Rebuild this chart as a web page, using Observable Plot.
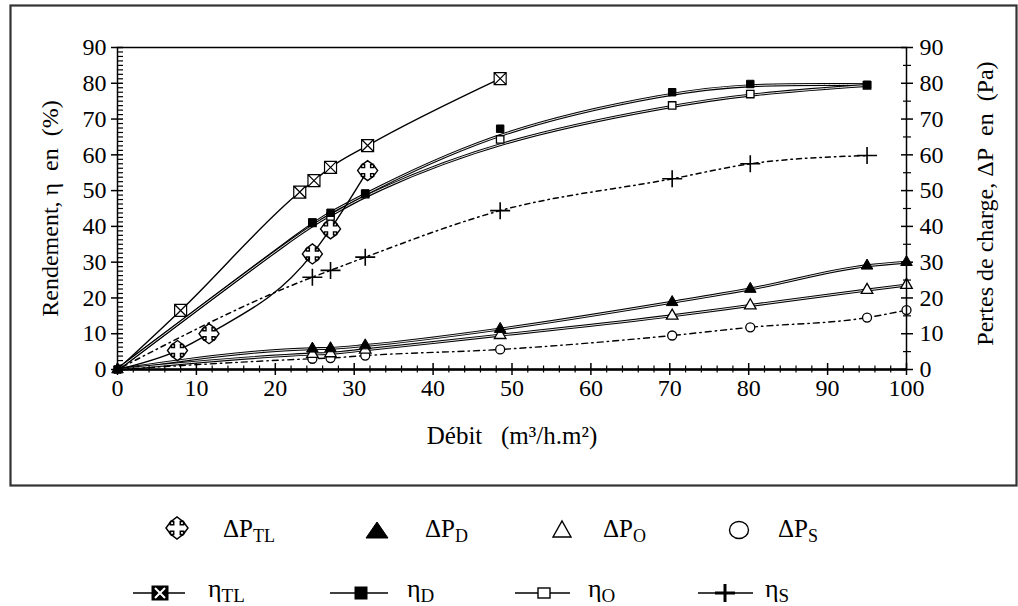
<!DOCTYPE html>
<html>
<head>
<meta charset="utf-8">
<script src="https://cdn.jsdelivr.net/npm/d3@7"></script>
<script src="https://cdn.jsdelivr.net/npm/@observablehq/plot@0.6"></script>
<style>
  body { margin: 0; font-family: 'Liberation Serif', serif; }
  svg text, svg tspan { font-family: 'Liberation Serif', serif !important; }
</style>
</head>
<body>
<div id="chart"></div>
<svg id="legend" width="1018" height="119" font-family="Liberation Serif" style="display:block; font-family: 'Liberation Serif', serif"></svg>
<script>
// ---------- data ----------
// Rendement η (%) — left axis
const xEtaTL = [0, 8, 23.1, 24.9, 27, 31.7, 48.5];
const etaTL  = [0, 16.5, 49.6, 52.8, 56.5, 62.6, 81.3];
const xEta   = [0, 24.7, 27, 31.4, 48.5, 70.3, 80.2, 95];
const etaD   = [0, 41.1, 43.8, 49.2, 67.3, 77.5, 79.8, 79.6];
const etaO   = [0, 41.0, 42.8, 49.0, 64.3, 73.8, 77.0, 79.4];
const etaS   = [0, 25.8, 27.7, 31.4, 44.4, 53.3, 57.5, 59.8];
// Pertes de charge ΔP (Pa) — right axis (same 0–90 scale)
const xDpTL  = [0, 7.6, 11.6, 24.7, 27, 31.7];
const dpTL   = [0, 5.3, 10.0, 32.3, 39.3, 55.6];
const xDp    = [0, 24.7, 27, 31.4, 48.5, 70.3, 80.2, 95, 100];
const dpD    = [0, 5.8, 5.9, 6.7, 11.3, 18.8, 22.5, 29.0, 30.0];
const dpO    = [0, 4.3, 4.5, 5.5, 9.6, 15.0, 17.9, 22.2, 23.6];
const dpS    = [0, 3.0, 3.2, 3.9, 5.6, 9.5, 11.8, 14.5, 16.6];

// ticks and labels
const xTicks = [0, 10, 20, 30, 40, 50, 60, 70, 80, 90, 100];
const yTicks = [0, 10, 20, 30, 40, 50, 60, 70, 80, 90];
const xLabel = "Débit\u00a0\u00a0 (m³/h.m²)";
const yLeftLabel = "Rendement, η\u00a0 en\u00a0 (%)";
const yRightLabel = "Pertes de charge, ΔP\u00a0 en\u00a0 (Pa)";
const legendTop = [["ΔP", "TL"], ["ΔP", "D"], ["ΔP", "O"], ["ΔP", "S"]];
const legendBottom = [["η", "TL"], ["η", "D"], ["η", "O"], ["η", "S"]];

// ---------- helpers ----------
const rows = (xs, ys) => xs.map((x, i) => ({x, y: ys[i]}));
const xMinor = d3.range(0, 100.01, 2).filter(v => v % 10 !== 0);
const yMinorLeft = d3.range(0, 90.01, 1.25).filter(v => Math.abs(v % 10) > 1e-6);
const yMinorRight = d3.range(5, 90, 10);

const rad = size => Math.sqrt(size / Math.PI);
const cloverSym = {draw(ctx, size) {
  const t = rad(size), a = t * 0.3, b = t * 0.6;
  const arm = [[-a, -b], [-a * 1.8, -b], [0, -t], [a * 1.8, -b], [a, -b], [a, -a]];
  ctx.moveTo(-a, -a);
  for (let k = 0; k < 4; k++) {
    for (let [x, y] of arm) {
      for (let j = 0; j < k; j++) [x, y] = [-y, x];
      ctx.lineTo(x, y);
    }
  }
  ctx.closePath();
}};
const boxXSym = {draw(ctx, size) {
  const r = rad(size);
  ctx.rect(-r, -r, 2 * r, 2 * r);
  ctx.moveTo(-r, -r); ctx.lineTo(r, r);
  ctx.moveTo(r, -r); ctx.lineTo(-r, r);
}};
const plusSym = {draw(ctx, size) {
  const r = rad(size);
  ctx.moveTo(-r, 0); ctx.lineTo(r, 0);
  ctx.moveTo(0, -r * 0.85); ctx.lineTo(0, r * 0.85);
}};

const serifStack = "'Liberation Serif', serif";
const dblLine = (data, curve) => [
  Plot.line(data, {x: "x", y: "y", curve, stroke: "black", strokeWidth: 3}),
  Plot.line(data, {x: "x", y: "y", curve, stroke: "white", strokeWidth: 0.9})
];
const tx = {fontFamily: "Liberation Serif"};

const chart = Plot.plot({
  width: 1018, height: 487,
  marginLeft: 117, marginRight: 112, marginTop: 47, marginBottom: 118,
  x: {domain: [0, 100]},
  y: {domain: [0, 90]},
  style: {fontFamily: serifStack, fontSize: "24px", color: "black"},
  marks: [
    // outer box around the figure
    Plot.frame({insetLeft: -107, insetRight: -110, insetTop: -42, insetBottom: -116, stroke: "#333", strokeWidth: 2.2}),
    // lines
    Plot.line(rows(xEtaTL, etaTL), {x: "x", y: "y", curve: "monotone-x", stroke: "black", strokeWidth: 1.4}),
    ...dblLine(rows(xEta, etaD), "basis"),
    ...dblLine(rows(xEta, etaO), "basis"),
    Plot.line(rows(xEta, etaS), {x: "x", y: "y", curve: "monotone-x", stroke: "black", strokeWidth: 1.5, strokeDasharray: "1.5,4,5,4"}),
    Plot.line(rows(xDpTL, dpTL), {x: "x", y: "y", curve: "monotone-x", stroke: "black", strokeWidth: 1.4}),
    ...dblLine(rows(xDp, dpD), "monotone-x"),
    ...dblLine(rows(xDp, dpO), "monotone-x"),
    Plot.line(rows(xDp, dpS), {x: "x", y: "y", curve: "monotone-x", stroke: "black", strokeWidth: 1.4, strokeDasharray: "6,4,1.5,4"}),
    // markers
    Plot.dot(rows(xDp, dpS).slice(1), {x: "x", y: "y", symbol: "circle", r: 4.5, fill: "white", stroke: "black", strokeWidth: 1.3}),
    Plot.dot(rows(xDp, dpO).slice(1), {x: "x", y: "y", symbol: "triangle", r: 4.3, fill: "white", stroke: "black", strokeWidth: 1.3}),
    Plot.dot(rows(xDp, dpD), {x: "x", y: "y", symbol: "triangle", r: 4.3, fill: "black", stroke: "black", strokeWidth: 1}),
    Plot.dot(rows(xDpTL, dpTL).slice(1), {x: "x", y: "y", symbol: cloverSym, r: 10, fill: "white", stroke: "black", strokeWidth: 1.4}),
    Plot.dot(rows(xEta, etaS).slice(1), {x: "x", y: "y", symbol: plusSym, r: 10, stroke: "black", strokeWidth: 1.6}),
    Plot.dot(rows(xEta, etaO).slice(1), {x: "x", y: "y", symbol: "square", r: 4.2, fill: "white", stroke: "black", strokeWidth: 1.3}),
    Plot.dot(rows(xEta, etaD), {x: "x", y: "y", symbol: "square", r: 4.2, fill: "black", stroke: "black", strokeWidth: 1}),
    Plot.dot(rows(xEtaTL, etaTL).slice(1), {x: "x", y: "y", symbol: boxXSym, r: 6, fill: "white", stroke: "black", strokeWidth: 1.2}),
    // frame & axes
    Plot.frame({stroke: "black", strokeWidth: 1.5}),
    Plot.ruleY([0], {stroke: "black", strokeWidth: 2.5}),
    Plot.axisY(yTicks, {anchor: "left", tickSize: 0, tickPadding: 11, fontSize: 24, label: null, ...tx}),
    Plot.axisY(yTicks, {anchor: "left", tickSize: 12, dx: 6, fill: "none", strokeWidth: 1.5}),
    Plot.axisY(yMinorLeft, {anchor: "left", tickSize: 6, dx: 6, fill: "none", strokeWidth: 1.2}),
    Plot.axisY(yTicks, {anchor: "right", tickSize: 0, tickPadding: 13, fontSize: 24, label: null, ...tx}),
    Plot.axisY(yTicks, {anchor: "right", tickSize: 12, dx: -6, fill: "none", strokeWidth: 1.5}),
    Plot.axisY(yMinorRight, {anchor: "right", tickSize: 8, dx: -4, fill: "none", strokeWidth: 1.2}),
    Plot.axisX(xTicks, {anchor: "bottom", tickSize: 0, tickPadding: 9, fontSize: 24, label: null, ...tx}),
    Plot.axisX(xTicks, {anchor: "bottom", tickSize: 12, dy: -6, fill: "none", strokeWidth: 1.5}),
    Plot.axisX(xMinor, {anchor: "bottom", tickSize: 7, dy: -3.5, fill: "none", strokeWidth: 1.2}),
    // axis titles
    Plot.text([xLabel], {text: d => d, frameAnchor: "bottom", dy: 74, fontSize: 25, textAnchor: "middle", ...tx}),
    Plot.text([yLeftLabel], {text: d => d, frameAnchor: "left", dx: -67, rotate: -90, textAnchor: "middle", fontSize: 24, ...tx}),
    Plot.text([yRightLabel], {text: d => d, frameAnchor: "right", dx: 79, dy: -5, rotate: -90, textAnchor: "middle", fontSize: 24, ...tx})
  ]
});
document.getElementById("chart").append(chart);

// ---------- legend ----------
const lg = d3.select("#legend");
const sg = lg.append("g").attr("fill", "none").attr("stroke", "black");
// row 1 symbols
const cl = d3.path(); cloverSym.draw(cl, Math.PI * 11 * 11);
sg.append("path").attr("d", cl.toString()).attr("transform", "translate(177,41)").attr("fill", "white").attr("stroke-width", 1.5);
sg.append("path").attr("d", "M366,51L388,51L377,35Z").attr("fill", "black");
sg.append("path").attr("d", "M553,50L571,50L562,34Z").attr("stroke-width", 1.4);
sg.append("ellipse").attr("cx", 739).attr("cy", 43).attr("rx", 9.5).attr("ry", 8.5).attr("stroke-width", 1.4);
// row 2 symbols
const segs = [[133, 185], [330, 388], [515, 570], [698, 753]];
segs.forEach(([a, b]) => sg.append("line").attr("x1", a).attr("x2", b).attr("y1", 106).attr("y2", 106).attr("stroke-width", 1.5));
sg.append("rect").attr("x", 152).attr("y", 99).attr("width", 16).attr("height", 14).attr("fill", "black");
sg.append("path").attr("d", "M155,101L165,111M165,101L155,111").attr("stroke", "white").attr("stroke-width", 2);
sg.append("rect").attr("x", 355).attr("y", 100).attr("width", 12).attr("height", 12).attr("fill", "black");
sg.append("rect").attr("x", 538).attr("y", 101).attr("width", 12).attr("height", 10).attr("fill", "white").attr("stroke-width", 1.4);
sg.append("path").attr("d", "M715,106L735,106M725,97L725,115").attr("stroke-width", 3);
// legend texts
const tg = lg.append("g").attr("fill", "black");
const addText = (x, y, [base, sub], size, subSize, subDy) => {
  const t = tg.append("text").attr("x", x).attr("y", y).attr("font-size", size)
    .attr("font-family", "Liberation Serif").attr("style", "font-family: 'Liberation Serif', serif");
  t.append("tspan").text(base);
  t.append("tspan").attr("font-size", subSize).attr("dy", subDy).text(sub);
};
[223, 425, 603, 778].forEach((x, i) => addText(x, 50, legendTop[i], 25, 18, 5));
[208, 407, 588, 765].forEach((x, i) => addText(x, 110, legendBottom[i], 26, 19, 5));
</script>
</body>
</html>
